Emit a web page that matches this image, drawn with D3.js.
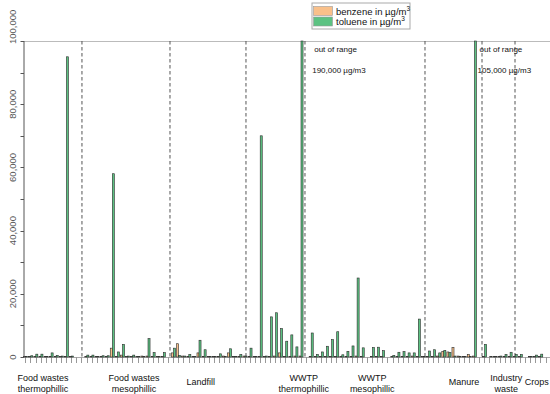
<!DOCTYPE html>
<html>
<head>
<meta charset="utf-8">
<script src="https://cdn.jsdelivr.net/npm/d3@7"></script>
<style>
    body { margin: 0; background: #fff; }
    svg { display: block; font-family: "Liberation Sans", Arial, sans-serif; }
</style>
</head>
<body>
<div id="chart"></div>
<script>
// values, one entry per sample (ug/m3)
var benzene = [
    100, 100, 200, 100, 100, 200, 100, 100, 200, 100, 0, 0,
    100, 100, 100, 100, 100, 2800, 200, 600, 100, 100, 100, 300, 300, 100, 100, 100, 0,
    1300, 4200, 300, 200, 100, 1300, 200, 100, 100, 200, 300, 1300, 100, 200, 300,
    200, 100, 100, 100, 200, 300, 1300, 200, 200, 300, 300,
    0, 200, 100, 100, 100, 100, 100, 100, 100, 100, 300, 100, 0, 100, 100, 100, 0, 100, 100, 100, 100, 300, 200,
    100, 200, 200, 300, 1800, 1600, 3000, 300, 200, 800, 300,
    0, 100, 0, 100, 100, 100, 200,
    100, 100, 0, 100, 100, 100, 0
];
var toluene = [
    200, 400, 900, 900, 200, 1300, 500, 300, 95000, 300, 0, 0,
    600, 600, 200, 400, 400, 58000, 1600, 4000, 300, 600, 200, 100, 5800, 1400, 100, 1400, 0,
    2800, 500, 300, 800, 200, 5300, 2300, 200, 100, 1000, 200, 2600, 200, 800, 300,
    2800, 100, 70000, 300, 12700, 14000, 9000, 5000, 7000, 3200, 190000,
    0, 7600, 800, 1600, 3400, 5500, 8000, 700, 1800, 3500, 25000, 2900, 0, 3000, 3100, 2000, 0, 500, 1500, 1700, 1300, 1300, 12000,
    200, 1900, 2300, 1300, 2100, 1400, 300, 200, 100, 100, 105000,
    0, 4000, 100, 100, 300, 800, 1500,
    800, 800, 0, 200, 600, 900, 0
];

// group names and where the label / dashed divider sit (in sample units)
var groupNames = [
    ["Food wastes", "thermophillic"],
    ["Food wastes", "mesophillic"],
    ["Landfill"],
    ["WWTP", "thermophillic"],
    ["WWTP", "mesophillic"],
    ["Manure"],
    ["Industry", "waste"],
    ["Crops"]
];
var groupLabelAt = [3.96, 21.8, 34.9, 55.1, 68.5, 86.5, 94.8, 100.8];
var dividerAt = [11.6, 28.86, 43.76, 55.33, 78.86, 90.04, 96.51];

var yTicks = [0, 20000, 40000, 60000, 80000, 100000];
var yMinorTicks = [10000, 30000, 50000, 70000, 90000];

var notes = [
    { at: 54, lines: ["out of range", "190,000 \u00b5g/m3"] },
    { at: 88, lines: ["out of range", "105,000 \u00b5g/m3"] }
];

var seriesNames = ["benzene in \u00b5g/m", "toluene in \u00b5g/m"];
var colors = ["#f9c08a", "#5cc282"];

(function () {

    var width = 550;
    var height = 394;
    var plotLeft = 24, plotTop = 41, plotBottom = 357;
    var x0 = 22.8, step = 5.1;
    var n = toluene.length;

    var svg = d3.select("#chart")
        .append("svg")
        .attr("width", width)
        .attr("height", height);

    var x = d3.scaleBand()
        .domain(d3.range(n))
        .range([x0, x0 + n * step])
        .padding(0);

    var xi = d3.scaleLinear()
        .domain([0, n])
        .range([x0, x0 + n * step]);

    var y = d3.scaleLinear()
        .domain([0, 100000])
        .range([plotBottom, plotTop])
        .clamp(true);

    // top frame line
    svg.append("line")
        .attr("x1", plotLeft).attr("x2", width)
        .attr("y1", plotTop + 0.5).attr("y2", plotTop + 0.5)
        .attr("stroke", "#bbb");

    // baseline
    svg.append("line")
        .attr("x1", plotLeft).attr("x2", width)
        .attr("y1", plotBottom + 0.5).attr("y2", plotBottom + 0.5)
        .attr("stroke", "#aaa");

    // category ticks under the axis
    svg.append("g")
        .selectAll("line")
        .data(d3.range(n))
        .enter().append("line")
        .attr("x1", function (d) { return Math.round(x(d) + x.bandwidth() / 2) + 0.5 })
        .attr("x2", function (d) { return Math.round(x(d) + x.bandwidth() / 2) + 0.5 })
        .attr("y1", plotBottom)
        .attr("y2", plotBottom + 6)
        .attr("stroke", "#999");

    // dashed dividers
    svg.append("g")
        .selectAll("line")
        .data(dividerAt)
        .enter().append("line")
        .attr("x1", function (d) { return xi(d) })
        .attr("x2", function (d) { return xi(d) })
        .attr("y1", plotTop)
        .attr("y2", plotBottom)
        .attr("stroke", "#555")
        .attr("stroke-dasharray", "3.5,2.5");

    // bars, benzene left and toluene right inside each band
    var bw = x.bandwidth();
    [benzene, toluene].forEach(function (vals, s) {
        svg.append("g")
            .selectAll("rect")
            .data(vals.map(function (v, i) { return { i: i, v: v } }).filter(function (d) { return d.v > 0 }))
            .enter().append("rect")
            .attr("x", function (d) { return x(d.i) + (s === 0 ? 0.15 : 0.55) * bw })
            .attr("width", 0.4 * bw)
            .attr("y", function (d) { return y(d.v) })
            .attr("height", function (d) { return plotBottom - y(d.v) })
            .attr("fill", colors[s])
            .attr("stroke", "#2b2b2b")
            .attr("stroke-width", 0.6);
    });

    // y axis
    var yAxis = svg.append("g");
    yAxis.append("line")
        .attr("x1", plotLeft).attr("x2", plotLeft)
        .attr("y1", plotTop).attr("y2", plotBottom)
        .attr("stroke", "#555");
    yAxis.selectAll(".tk")
        .data(yTicks.concat(yMinorTicks))
        .enter().append("line")
        .attr("x1", plotLeft - 3.5).attr("x2", plotLeft)
        .attr("y1", function (d) { return Math.round(y(d)) + 0.5 })
        .attr("y2", function (d) { return Math.round(y(d)) + 0.5 })
        .attr("stroke", "#555");
    yAxis.selectAll("text")
        .data(yTicks)
        .enter().append("text")
        .attr("transform", function (d) { return "translate(16," + (d === 100000 ? y(d) + 3 : y(d)) + ") rotate(-90)" })
        .attr("text-anchor", function (d) { return d === 100000 ? "start" : "middle" })
        .attr("font-size", 9.5)
        .attr("fill", "#555")
        .text(function (d) { return d3.format(",")(d) });

    // group labels
    groupNames.forEach(function (lines, i) {
        var t = svg.append("text")
            .attr("text-anchor", "middle")
            .attr("font-size", 9)
            .attr("fill", "#111");
        if (lines.length === 1) {
            t.append("tspan").attr("x", xi(groupLabelAt[i])).attr("y", 384.5).text(lines[0]);
        } else {
            t.append("tspan").attr("x", xi(groupLabelAt[i])).attr("y", 381).text(lines[0]);
            t.append("tspan").attr("x", xi(groupLabelAt[i])).attr("y", 392).text(lines[1]);
        }
    });

    // out of range notes
    notes.forEach(function (d, i) {
        var nx = x(d.at) + (i === 0 ? 14 : 6);
        svg.append("text").attr("x", nx + 2).attr("y", 52)
            .attr("font-size", 8).attr("fill", "#111").text(d.lines[0]);
        svg.append("text").attr("x", nx).attr("y", 73)
            .attr("font-size", 8).attr("fill", "#111").text(d.lines[1]);
    });

    // legend
    var legend = svg.append("g").attr("transform", "translate(312,3)");
    legend.append("rect")
        .attr("x", 0).attr("y", 0)
        .attr("width", 98).attr("height", 26)
        .attr("fill", "#fff")
        .attr("stroke", "#aaa");
    seriesNames.forEach(function (name, i) {
        legend.append("rect")
            .attr("x", 1.5).attr("y", 3.5 + i * 10.5)
            .attr("width", 19).attr("height", 9)
            .attr("fill", colors[i])
            .attr("stroke", "#999")
            .attr("stroke-width", 0.6);
        var t = legend.append("text")
            .attr("x", 24).attr("y", 11.5 + i * 10)
            .attr("font-size", 9.5)
            .attr("fill", "#111")
            .text(name);
        t.append("tspan")
            .attr("font-size", 6.5)
            .attr("dy", -3.5)
            .text("3");
    });

})();
</script>
</body>
</html>
